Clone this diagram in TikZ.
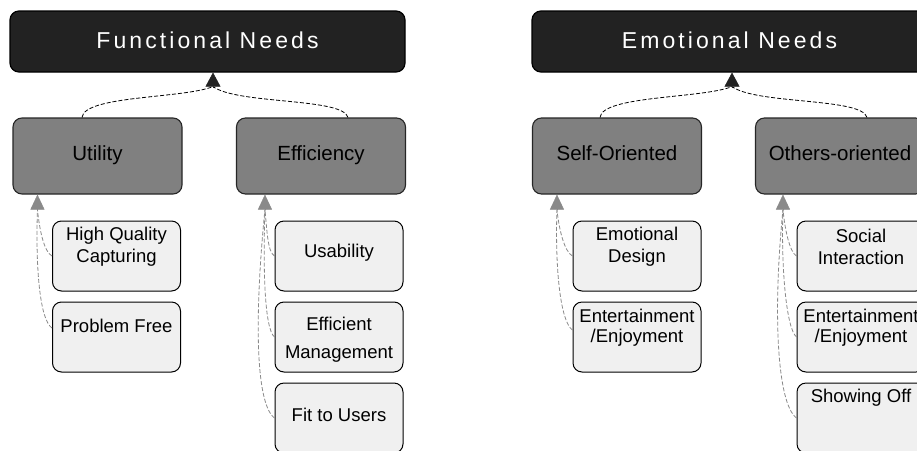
\documentclass[tikz,border=0pt]{standalone}
\usepackage{fontspec}
\setmainfont{Liberation Sans}
\newfontfamily\headfont[LetterSpace=13.4]{Liberation Sans}
\usetikzlibrary{arrows.meta,positioning}
\definecolor{headfill}{HTML}{222222}
\definecolor{catfill}{HTML}{808080}
\definecolor{itemfill}{HTML}{F0F0F0}
\definecolor{linkgray}{HTML}{8A8A8A}

\begin{document}
\begin{tikzpicture}[x=1pt, y=-1pt,
    needbox/.style={rectangle, rounded corners=9pt, draw=black, line width=1.2pt, fill=headfill, minimum width=395pt, minimum height=61pt, text=white, text height=16pt, text depth=3pt, font=\headfont\fontsize{23}{27}\selectfont},
    catbox/.style={rectangle, rounded corners=9pt, draw=black!85, line width=1.1pt, fill=catfill, minimum width=169pt, minimum height=76pt, text height=15pt, text depth=7pt, font=\fontsize{20.5}{24}\selectfont},
    itembox/.style={rectangle, rounded corners=9pt, draw=black, line width=1pt, fill=itemfill, minimum width=128pt, minimum height=70pt},
    itemtext/.style={align=center, inner sep=0pt, font=\fontsize{18.5}{22}\selectfont},
    link/.style={draw=black, line width=0.8pt, dash pattern=on 4pt off 2pt},
    linktip/.style={draw=headfill, -{Triangle[width=15pt,length=14pt]}},
    sublink/.style={draw=linkgray, line width=0.8pt, dash pattern=on 4pt off 2pt},
    subtip/.style={draw=linkgray, -{Triangle[width=14pt,length=15pt]}}
]
\fill[white] (0,0) rectangle (917,450);
\useasboundingbox (0,0) rectangle (917,450);
\clip (0,0) rectangle (917,450);

% top level
\node[needbox] (fn) at (207.5,41.5) {Functional Needs};
\node[needbox] (en) at (729.5,41.5) {Emotional Needs};

% categories
\node[catbox] (util) at (97.5,156) {Utility};
\node[catbox] (eff) at (321,156) {Efficiency};
\node[catbox] (self) at (617,156) {Self-Oriented};
\node[catbox] (oth) at (840,156) {Others-oriented};

% items
\node[itembox] (hqc) at (116.5,256) {};
\node[itembox] (pfree) at (116.5,337) {};
\node[itembox] (usab) at (339,256) {};
\node[itembox] (effm) at (339,337) {};
\node[itembox] (fit) at (339,418) {};
\node[itembox] (emod) at (637,256) {};
\node[itembox] (entl) at (637,337) {};
\node[itembox] (soc) at (861,256) {};
\node[itembox] (entr) at (861,337) {};
\node[itembox] (show) at (861,418) {};

\node[itemtext] (hqctext) at ([yshift=9pt]hqc.center) {High Quality\\Capturing};
\node[itemtext] (pfreetext) at ([yshift=11pt]pfree.center) {Problem Free};
\node[itemtext] (usabtext) at ([yshift=3pt]usab.center) {Usability};
\node[itemtext] (effmtext) at ([yshift=-3pt]effm.center) {Efficient\\[6pt]Management};
\node[itemtext] (fittext) at ([yshift=3pt]fit.center) {Fit to Users};
\node[itemtext] (emodtext) at ([yshift=9pt]emod.center) {Emotional\\Design};
\node[itemtext] (entltext) at ([yshift=9pt]entl.center) {Entertainment\\[-2pt]/Enjoyment};
\node[itemtext] (soctext) at ([yshift=9pt]soc.center) {Social\\Interaction};
\node[itemtext] (entrtext) at ([yshift=9pt]entr.center) {Entertainment\\[-2pt]/Enjoyment};
\node[itemtext] (showtext) at ([yshift=20pt]show.center) {Showing Off};

% arrow bases
\coordinate (fnin) at ([xshift=5.5pt,yshift=-14pt]fn.south);
\coordinate (enin) at ([xshift=2.5pt,yshift=-14pt]en.south);
\coordinate (utilin) at ([xshift=25pt,yshift=-15pt]util.south west);
\coordinate (effin) at ([xshift=29pt,yshift=-15pt]eff.south west);
\coordinate (selfin) at ([xshift=25pt,yshift=-15pt]self.south west);
\coordinate (othin) at ([xshift=28pt,yshift=-15pt]oth.south west);

% categories to needs
\draw[link] ([xshift=-15.5pt]util.north) .. controls +(2,-22) and +(-30,12) .. (fnin);
\draw[link] ([xshift=27pt]eff.north) .. controls +(-5,-20) and +(25,18) .. (fnin);
\draw[link] ([xshift=-17pt]self.north) .. controls +(2,-22) and +(-30,12) .. (enin);
\draw[link] ([xshift=27pt]oth.north) .. controls +(-5,-20) and +(25,18) .. (enin);
\draw[linktip] (fnin) -- ([xshift=5.5pt]fn.south);
\draw[linktip] (enin) -- ([xshift=2.5pt]en.south);

% items to categories
\draw[sublink] (hqc.west) .. controls +(-8,-4) and +(2,20) .. (utilin);
\draw[sublink] ([yshift=9pt]pfree.west) .. controls +(-12,-8) and +(-2,60) .. (utilin);
\draw[sublink] (usab.west) .. controls +(-7,-4) and +(2,20) .. (effin);
\draw[sublink] (effm.west) .. controls +(-10,-8) and +(-2,60) .. (effin);
\draw[sublink] (fit.west) .. controls +(-20,-15) and +(-10,100) .. (effin);
\draw[sublink] (emod.west) .. controls +(-8,-4) and +(2,20) .. (selfin);
\draw[sublink] ([yshift=7pt]entl.west) .. controls +(-12,-8) and +(-2,60) .. (selfin);
\draw[sublink] (soc.west) .. controls +(-7,-4) and +(2,20) .. (othin);
\draw[sublink] (entr.west) .. controls +(-10,-8) and +(-2,60) .. (othin);
\draw[sublink] (show.west) .. controls +(-20,-15) and +(-10,100) .. (othin);
\draw[subtip] (utilin) -- ([xshift=25pt]util.south west);
\draw[subtip] (effin) -- ([xshift=29pt]eff.south west);
\draw[subtip] (selfin) -- ([xshift=25pt]self.south west);
\draw[subtip] (othin) -- ([xshift=28pt]oth.south west);
\end{tikzpicture}
\end{document}
